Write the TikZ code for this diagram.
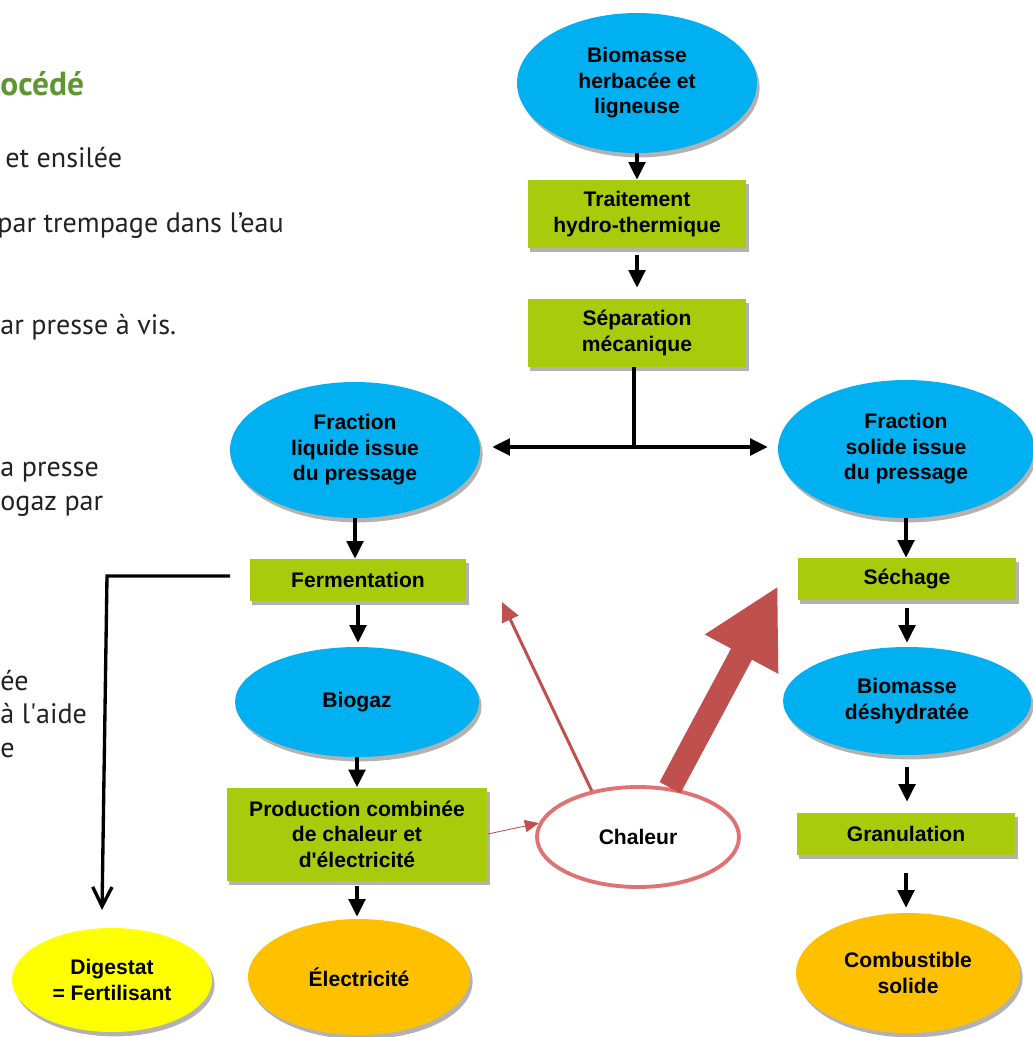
\documentclass[tikz,border=0pt]{standalone}
\usepackage{fontspec}
\setmainfont{Liberation Sans}
\newfontfamily\sidefont{PT Sans}
\usepackage{tikz}
\usetikzlibrary{arrows.meta,shapes.geometric,shadows}
\definecolor{procblue}{HTML}{00B0F0}
\definecolor{stepgreen}{HTML}{A8CB0C}
\definecolor{outorange}{HTML}{FFC000}
\definecolor{outyellow}{HTML}{FFFF00}
\definecolor{heatred}{HTML}{C0504D}
\definecolor{heatpink}{HTML}{E07272}
\definecolor{titlegreen}{HTML}{5E9732}
\definecolor{sidegray}{HTML}{222222}
\tikzset{
  boxfont/.style={font=\bfseries\fontsize{12}{14.5}\selectfont},
  softshadow/.style={drop shadow={shadow xshift=1.5pt,shadow yshift=-2.5pt,fill=black,opacity=.3}},
  stepbox/.style={rectangle,fill=stepgreen,boxfont,align=center,inner sep=0pt,softshadow},
  blob/.style={ellipse,fill=procblue,boxfont,align=center,inner sep=0pt,softshadow},
  outblob/.style={blob,fill=outorange},
  flow/.style={line width=1.9pt,-{Triangle[length=10pt,width=9.5pt]}},
  sidetext/.style={anchor=base west,inner sep=0pt,text=sidegray,font=\sidefont\fontsize{16}{19}\selectfont},
  sidetitle/.style={sidetext,text=titlegreen,font=\sidefont\bfseries\fontsize{19}{22}\selectfont},
}
\begin{document}
\begin{tikzpicture}[x=0.02cm,y=-0.02cm]
\useasboundingbox (0,0) rectangle (1032,1037);
% cut text on the left
\node[sidetitle] (t0) at (0,96) {océdé};
\node[sidetext] (t1) at (5,168) {et ensilée};
\node[sidetext] (t2) at (-3,233) {par trempage dans l’eau};
\node[sidetext] (t3) at (0,334) {ar presse à vis.};
\node[sidetext] (t4) at (0,476) {a presse};
\node[sidetext] (t5) at (0,510) {ogaz par};
\node[sidetext] (t6) at (0,690) {ée};
\node[sidetext] (t7) at (0,723) {à l\textquotesingle aide};
\node[sidetext] (t8) at (0,757) {e};
% centre column
\node[blob,minimum width=4.8cm,minimum height=2.8cm] (bio) at (637,83) {Biomasse\\herbacée et\\ligneuse};
\node[stepbox,minimum width=4.38cm,minimum height=1.36cm] (trait) at (637,214) {Traitement\\hydro-thermique};
\node[stepbox,minimum width=4.38cm,minimum height=1.36cm] (sep) at (637,333) {Séparation\\mécanique};
% liquid branch
\node[blob,minimum width=5cm,minimum height=2.72cm] (liq) at (355,450) {Fraction\\liquide issue\\du pressage};
\node[stepbox,minimum width=4.34cm,minimum height=.84cm] (ferm) at (358,580) {Fermentation};
\node[blob,minimum width=4.88cm,minimum height=2.2cm] (gaz) at (357,702) {Biogaz};
\node[stepbox,minimum width=5.22cm,minimum height=1.86cm] (cogen) at (357,834) {Production combinée\\de chaleur et\\d\textquotesingle électricité};
\node[outblob,minimum width=4.44cm,minimum height=2.32cm] (elec) at (359,977) {Électricité};
\node[blob,fill=outyellow,minimum width=4cm,minimum height=2.08cm] (dig) at (112,980) {Digestat\\= Fertilisant};
% solid branch
\node[blob,minimum width=5.12cm,minimum height=2.76cm] (sol) at (906,449) {Fraction\\solide issue\\du pressage};
\node[stepbox,minimum width=4.38cm,minimum height=.84cm] (sech) at (907,579) {Séchage};
\node[blob,minimum width=4.96cm,minimum height=2.16cm] (dry) at (907,701) {Biomasse\\déshydratée};
\node[stepbox,minimum width=4.38cm,minimum height=.84cm] (gran) at (906,834) {Granulation};
\node[outblob,minimum width=4.48cm,minimum height=2.4cm] (fuel) at (908,973) {Combustible\\solide};
% heat
\node[ellipse,draw=heatpink,line width=2.2pt,fill=white,boxfont,inner sep=0pt,minimum width=4.04cm,minimum height=2cm] (heat) at (638,837) {Chaleur};
\coordinate (split) at (634,447);
\coordinate (digin) at (230,576);
\coordinate (digturn) at (107,576);
\coordinate (digout) at (102,910);
\coordinate (heatL) at (502,602);
\coordinate (heatR) at (778,586);

\draw[flow] (bio.south) -- (bio.south |- trait.north);
\draw[flow,shorten <=.14cm,shorten >=.22cm] (trait.south) -- (trait.south |- sep.north);
\draw[line width=1.9pt] (split |- sep.south) -- (split);
\draw[flow,shorten >=.24cm] (split) -- (split -| liq.east);
\draw[flow,shorten >=.2cm] (split) -- (split -| sol.west);
\draw[flow] (liq.south) -- (liq.south |- ferm.north);
\draw[flow,shorten <=.08cm,shorten >=.08cm] (ferm.south) -- (ferm.south |- gaz.north);
\draw[flow] (gaz.south) -- (gaz.south |- cogen.north);
\draw[flow,shorten <=.1cm,shorten >=.04cm] (cogen.south) -- (cogen.south |- elec.north);
\draw[flow] (sol.south) -- (sol.south |- sech.north);
\draw[flow,shorten <=.16cm,shorten >=.08cm] (sech.south) -- (sech.south |- dry.north);
\draw[flow,shorten <=.24cm,shorten >=.22cm] (dry.south) -- (dry.south |- gran.north);
\draw[flow,shorten <=.36cm,shorten >=.1cm] (gran.south) -- (gran.south |- fuel.north);
\draw[line width=1.9pt,-{Straight Barb[length=11pt,width=11pt]}] (digin) -- (digturn) -- (digout);
% heat arrows
\draw[heatred,line width=.5pt,-{Triangle[length=8pt,width=7pt]}] (cogen.east) -- (heat.172);
\draw[heatred,line width=1.7pt,-{Triangle[length=11pt,width=10pt]}] (heat.135) -- (heatL);
\draw[heatred,line width=13.5pt,-{Triangle[length=44pt,width=44pt]}] (heat.57) -- (heatR);
\end{tikzpicture}
\end{document}
